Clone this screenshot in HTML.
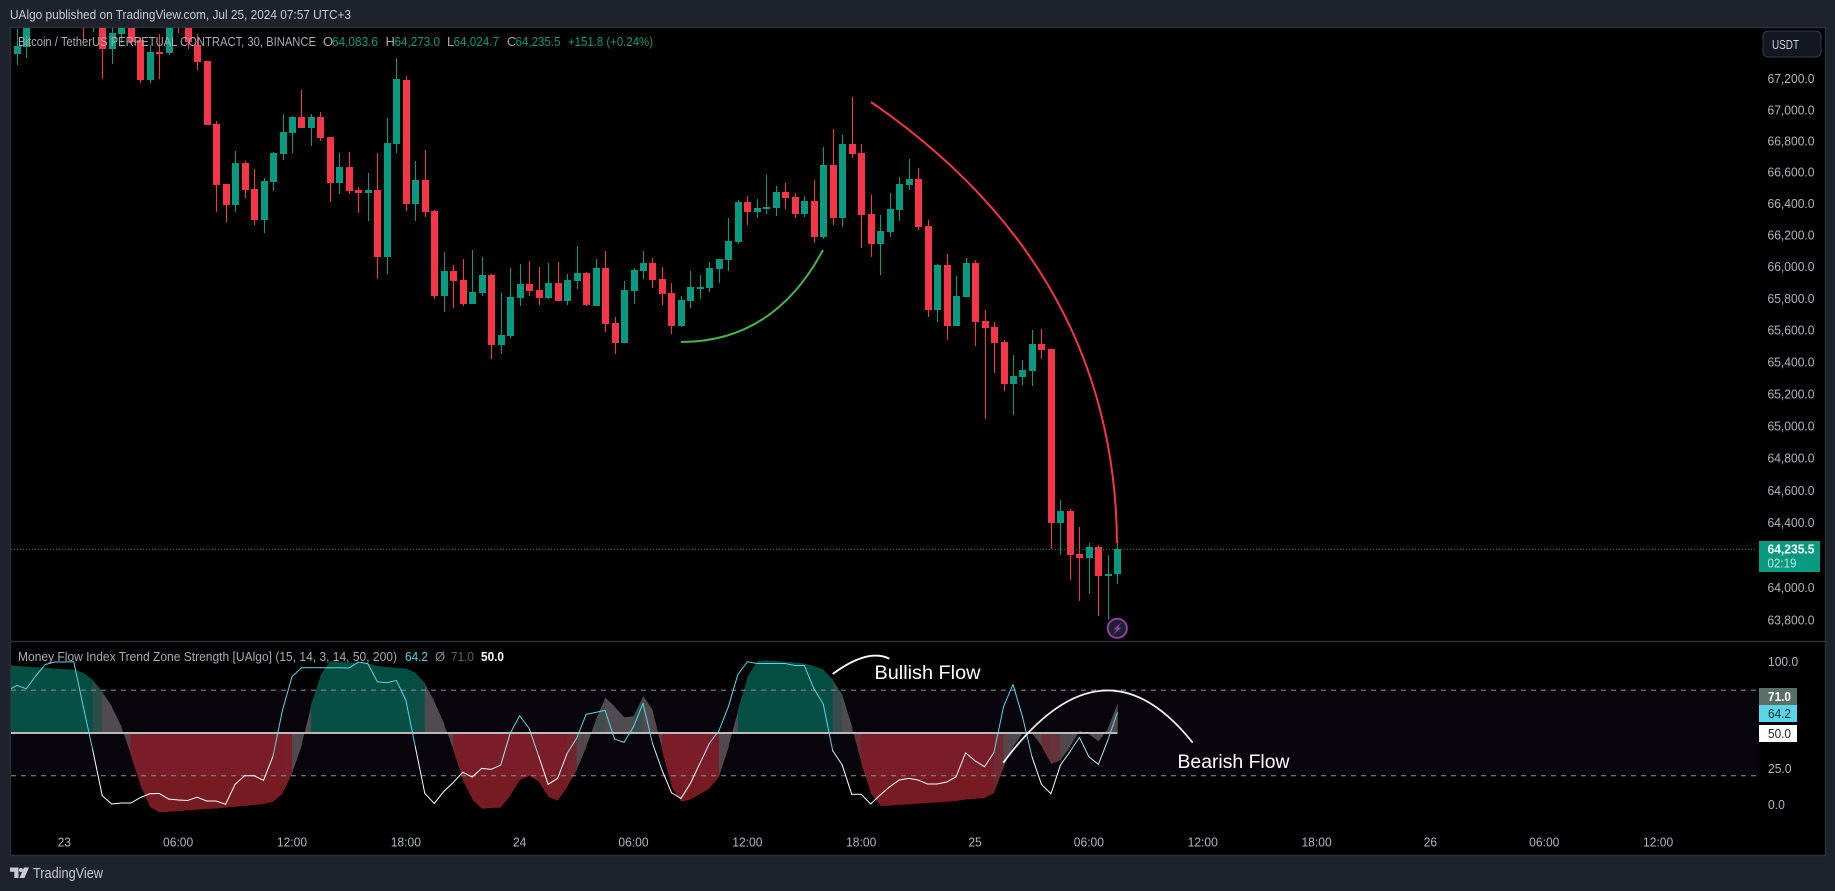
<!DOCTYPE html>
<html lang="en">
<head>
<meta charset="utf-8">
<title>BTC/USDT chart with Money Flow Index</title>
<style>
html,body{margin:0;padding:0;background:#1e222d;width:1835px;height:891px;overflow:hidden}
svg{display:block;font-family:"Liberation Sans",Arial,sans-serif}
</style>
</head>
<body>
<svg id="chart" xmlns="http://www.w3.org/2000/svg" width="1835" height="891" viewBox="0 0 1835 891">
  <defs>
    <clipPath id="priceClip"><rect x="11" y="28" width="1814" height="613"/></clipPath>
    <clipPath id="paneClip"><rect x="11" y="642" width="1748" height="213"/></clipPath>
  </defs>
  <rect x="0" y="0" width="1835" height="891" fill="#1e222d"/>
  <text x="10" y="19" font-size="13" fill="#c8cbd3" textLength="341" lengthAdjust="spacingAndGlyphs">UAlgo published on TradingView.com, Jul 25, 2024 07:57 UTC+3</text>
  <rect x="10.5" y="27.5" width="1815" height="828" fill="#000" stroke="#2a2e39" stroke-width="1.5"/>

  <g id="priceLayer" clip-path="url(#priceClip)"></g>
  <line id="lastPriceLine" x1="11" x2="1757" stroke="#089981" stroke-width="1" stroke-dasharray="1 2"/>

  <path d="M871 102 Q1115 270 1117 543" fill="none" stroke="#f23645" stroke-width="2"/>
  <path d="M681 342 Q774 342 823 250" fill="none" stroke="#4caf50" stroke-width="2"/>

  <g>
    <circle cx="1117.3" cy="628.3" r="9.6" fill="#1e222d" stroke="#9c3fb0" stroke-width="1.8"/>
    <polygon points="1121.5,622 1113.5,629.5 1117,629.5 1113,635 1121.5,627.6 1118,627.6" fill="#9c3fb0"/>
  </g>

  <line x1="10" x2="1825" y1="641.5" y2="641.5" stroke="#2a2e39" stroke-width="1.5"/>

  <g id="paneLayer" clip-path="url(#paneClip)"></g>

  <path d="M832.7 674 Q868 648 889.3 658.7" fill="none" stroke="#fff" stroke-width="1.8"/>
  <path d="M1003.3 762.7 Q1102 629 1192.7 742.7" fill="none" stroke="#fff" stroke-opacity=".92" stroke-width="1.8"/>
  <text x="874.5" y="679" font-size="19.5" fill="#fff" textLength="106" lengthAdjust="spacingAndGlyphs">Bullish Flow</text>
  <text x="1177.5" y="768" font-size="19.5" fill="#fff" textLength="112" lengthAdjust="spacingAndGlyphs">Bearish Flow</text>

  <g font-size="13">
    <text x="18" y="46" fill="#a9acb5" textLength="298" lengthAdjust="spacingAndGlyphs">Bitcoin / TetherUS PERPETUAL CONTRACT, 30, BINANCE</text>
    <text x="323" y="46" fill="#a9acb5">O</text>
    <text x="332" y="46" fill="#089981" textLength="46" lengthAdjust="spacingAndGlyphs">64,083.6</text>
    <text x="385.5" y="46" fill="#a9acb5">H</text>
    <text x="394.5" y="46" fill="#089981" textLength="45.5" lengthAdjust="spacingAndGlyphs">64,273.0</text>
    <text x="447" y="46" fill="#a9acb5">L</text>
    <text x="453.5" y="46" fill="#089981" textLength="45.5" lengthAdjust="spacingAndGlyphs">64,024.7</text>
    <text x="507" y="46" fill="#a9acb5">C</text>
    <text x="515.5" y="46" fill="#089981" textLength="45" lengthAdjust="spacingAndGlyphs">64,235.5</text>
    <text x="568" y="46" fill="#089981" textLength="85" lengthAdjust="spacingAndGlyphs">+151.8 (+0.24%)</text>
  </g>

  <g font-size="13">
    <text x="18" y="661" fill="#a9acb5" textLength="379" lengthAdjust="spacingAndGlyphs">Money Flow Index Trend Zone Strength [UAlgo] (15, 14, 3, 14, 50, 200)</text>
    <text x="405" y="661" fill="#5ad4e6" textLength="23" lengthAdjust="spacingAndGlyphs">64.2</text>
    <text x="435" y="661" fill="#8a8d96">Ø</text>
    <text x="451" y="661" fill="#4f6b62" textLength="23" lengthAdjust="spacingAndGlyphs">71.0</text>
    <text x="481" y="661" fill="#fff" font-weight="bold" textLength="23" lengthAdjust="spacingAndGlyphs">50.0</text>
  </g>

  <g id="priceAxis" font-size="13" fill="#b2b5be"></g>
  <g id="mfiAxis" font-size="13" fill="#b2b5be"></g>
  <g id="timeAxis" font-size="13" fill="#b2b5be" text-anchor="middle"></g>

  <g>
    <rect x="1763" y="31" width="58" height="26" rx="5" fill="#131722" stroke="#363a45"/>
    <text x="1772" y="49" font-size="13" fill="#d1d4dc" textLength="27" lengthAdjust="spacingAndGlyphs">USDT</text>
  </g>

  <g>
    <rect x="1759" y="541" width="61" height="31" fill="#089981"/>
    <text x="1767.5" y="553.5" font-size="13" font-weight="bold" fill="#fff" textLength="47" lengthAdjust="spacingAndGlyphs">64,235.5</text>
    <text x="1767.5" y="567.5" font-size="13" fill="#bfe9df" textLength="29" lengthAdjust="spacingAndGlyphs">02:19</text>
  </g>

  <g font-size="13">
    <rect x="1759" y="688" width="38" height="17" fill="#5a7067"/>
    <text x="1768" y="701" fill="#fff" font-weight="bold" textLength="23" lengthAdjust="spacingAndGlyphs">71.0</text>
    <rect x="1759" y="705" width="38" height="17" fill="#5ad4e6"/>
    <text x="1768" y="718" fill="#10303a" textLength="23" lengthAdjust="spacingAndGlyphs">64.2</text>
    <rect x="1759" y="725" width="38" height="17" fill="#fff"/>
    <text x="1768" y="738" fill="#222" textLength="23" lengthAdjust="spacingAndGlyphs">50.0</text>
  </g>

  <g>
    <path d="M10 867.5h8.5v10.5h-4.2v-6.3H10z M24 867.5h5l-4.6 10.5h-5z" fill="#c8cbd3"/>
    <circle cx="21" cy="870" r="2" fill="#c8cbd3"/>
    <text x="33" y="878" font-size="15" fill="#c8cbd3" textLength="70" lengthAdjust="spacingAndGlyphs">TradingView</text>
  </g>
</svg>

<script>
// Bars are 30-minute candles; the first entry sits 6 bars before the "23" day tick.
const firstBarOffset = -6;
const opens = [
67430,67359,67406,67590,67650,67680,67650,67640,67700,67560,
67680,67391,67487,67560,67449,67192,67372,67365,67700,67580,
67417,67314,66909,66525,66391,66659,66493,66296,66537,66717,
66851,66953,66883,66953,66826,66531,66633,66487,66468,66487,
66061,66781,67192,66397,66550,66353,65815,65972,65915,65764,
65833,65947,65506,65562,65802,65890,65852,65802,65896,65783,
65909,65960,65751,65991,65644,65518,65846,65972,66023,65922,
65833,65625,65783,65865,65865,65985,66042,66156,66410,66347,
66372,66372,66474,66442,66334,66417,66188,66646,66309,66781,
66723,66334,66143,66219,66359,66518,66557,66258,65726,66010,
65625,65808,66023,65657,65619,65525,65262,65306,65343,65512,
65481,64397,64473,64207,64182,64250,64071,64083.6];
const highs = [
67460,67520,67620,67700,67720,67740,67700,67720,67760,67720,
67700,67560,67620,67600,67470,67417,67487,67620,67720,67600,
67487,67314,66928,66525,66736,66672,66621,66563,66730,66973,
66960,67127,66973,66986,66826,66723,66730,66506,66595,66723,
66947,67333,67217,66672,66742,66359,66092,66010,66048,66105,
66061,65953,65833,65991,66016,66035,65997,66023,66029,65953,
66131,65966,66048,66099,65682,65909,65991,66099,66054,65997,
65896,65815,65972,65947,66029,66048,66309,66423,66448,66429,
66582,66512,66531,66468,66448,66550,66762,66877,66838,67082,
66781,66455,66328,66468,66569,66685,66627,66296,66016,66080,
65941,66054,66042,65726,65651,65537,65443,65412,65600,65606,
65481,64541,64485,64373,64275,64262,64200,64273];
const lows = [
67350,67288,67333,67560,67600,67620,67600,67590,67449,67500,
67198,67295,67430,67420,67172,67172,67198,67352,67494,67391,
67255,66903,66347,66283,66347,66436,66264,66213,66480,66678,
66723,66883,66768,66800,66410,66461,66461,66340,66290,65922,
65953,66723,66353,66290,66315,65796,65714,65739,65751,65764,
65815,65418,65450,65550,65751,65815,65758,65796,65783,65758,
65858,65751,65751,65587,65450,65518,65764,65922,65865,65758,
65575,65619,65739,65796,65840,65896,65972,66143,66264,66309,
66334,66321,66366,66309,66315,66150,66175,66264,66251,66691,
66118,66061,65947,66188,66290,66487,66232,65682,65651,65537,
65625,65808,65500,65043,65331,65219,65068,65256,65250,65418,
64237,64200,64046,63918,63961,63826,63801,64024.7];
const closes = [
67359,67410,67590,67650,67680,67650,67640,67690,67560,67680,
67391,67494,67560,67436,67192,67372,67365,67580,67580,67436,
67307,66903,66518,66391,66659,66487,66296,66544,66723,66857,
66953,66883,66953,66819,66531,66633,66480,66468,66487,66061,
66787,67198,66397,66550,66347,65815,65972,65909,65764,65840,
65947,65506,65569,65808,65890,65846,65802,65896,65783,65915,
65960,65758,65991,65638,65518,65852,65979,66023,65915,65827,
65625,65789,65871,65871,65991,66048,66162,66410,66347,66372,
66378,66474,66436,66334,66417,66188,66646,66309,66781,66717,
66328,66143,66226,66366,66525,66557,66251,65726,66010,65625,
65815,66023,65651,65613,65518,65262,65312,65349,65512,65475,
64397,64473,64200,64182,64250,64071,64083,64235.5];
const mfiValues = [
79.6,83.3,81,90,98,99.7,99.7,99.9,68.4,38,
6,.2,.9,.9,4.6,7.4,7.6,3.7,3,2.7,
5,2.3,2.3,0,14,20,20,16.8,33.8,66,
89.4,95.7,95.7,95.7,95.7,95.7,95.5,99.7,98.5,85.9,
85.2,86.8,73,40.3,7.6,.6,9,15.3,22.4,19.1,
25.2,24.5,27.5,49.7,62.1,53.2,33.8,14,18.2,35.7,
46.2,63,64.4,65.8,45.7,43.4,54.4,70.7,42.7,24,
8.1,4.1,14.7,28.7,42.7,51.6,68.4,91,99.9,98.7,
98.7,98.7,98.7,97.3,97.3,81.2,70.2,37.5,27.5,7,
7,.2,6.5,12.3,17,18.2,17,14.2,14.2,15.6,
19.3,36.1,30.5,26.3,36.4,68.4,84,61.4,33.3,14,
7.4,27.5,36.8,46.9,33.3,28,45,64.2];
const zoneValues = [
97.2,97,96.4,96,95.7,95.2,94.8,94.3,92.2,87,
78.9,68.4,54.4,34.5,13.5,-1.7,-5.7,-5.2,-4.8,-4.3,
-3.8,-3.3,-2.9,-2.2,-1.7,-1.2,-.5,.2,1.8,7.6,
21.7,41.5,69.5,90.6,100.4,99.9,99.4,99.2,98.7,96.9,
96.2,95.7,95.2,92.2,84.7,71.9,56.7,38,17,3.4,
-3.1,-2.6,-2.2,6.2,17,20,15.8,5.3,2.5,12.3,
24,40.3,59,74.9,68.4,60.9,61.8,75.9,66,38,
12.3,1.8,3.4,7.2,11.1,19.3,40.3,66,89.4,100.2,
100.9,100.4,99.9,99.4,98.7,96.9,94.5,87.1,76.6,54.4,
28.7,7.6,-1.2,-.8,-.5,0,.4,.9,1.3,1.8,
2.3,3.4,3.9,4.4,8.1,26.3,40.3,49.7,49.7,40.8,
28.2,31,40.3,51.6,49.2,43.9,53.2,70.7];
const priceTicks = [67200,67000,66800,66600,66400,66200,66000,65800,65600,65400,65200,65000,64800,64600,64400,64200,64000,63800];
const mfiTicks = [100,25,0];
const timeTicks = ['23','06:00','12:00','18:00','24','06:00','12:00','18:00','25','06:00','12:00','18:00','26','06:00','12:00'];
const barsPerTimeTick = [12];
const lastPrice = [64235.5];
const zoneLevels = [80,50,20];

const NS = 'http://www.w3.org/2000/svg';
const xOf = i => 64.3 + 9.487 * i;
const yPrice = p => 78.7 + 10430 * Math.log(67200 / p);
const yMfi = v => 804.3 - 1.427 * v;

function make(tag, attrs, parent) {
  const n = document.createElementNS(NS, tag);
  for (const k in attrs) n.setAttribute(k, attrs[k]);
  parent.appendChild(n);
  return n;
}
const mix = (a, b, t) => a.map((c, i) => Math.round(c + (b[i] - c) * t));
const clamp = (t) => Math.max(0, Math.min(1, t));
// Glyph widths that reproduce the reference's axis label extents.
const labelWidth = s => [...s].reduce((w, ch) => w + (/[0-9]/.test(ch) ? 6.7 : 3.4), 0);

// candles
const priceLayer = document.getElementById('priceLayer');
opens.forEach((open, k) => {
  const i = k + firstBarOffset;
  const close = closes[k];
  const color = close >= open ? '#089981' : '#f53649';
  const cx = Math.round(xOf(i));
  const top = Math.round(yPrice(Math.max(open, close)));
  const bottom = Math.round(yPrice(Math.min(open, close)));
  const candle = make('g', {'shape-rendering': 'crispEdges', fill: color}, priceLayer);
  
  
  const hi = Math.round(yPrice(highs[k]));
  const lo = Math.round(yPrice(lows[k]));
  const wick = make('rect', {x: cx, y: hi, width: 1, height: Math.max(1, lo - hi)}, candle);
  
  
  const body = make('rect', {x: cx - 3, y: top, width: 7, height: Math.max(2, bottom - top)}, candle);
  
  
});

const lastLine = document.getElementById('lastPriceLine');
lastLine.setAttribute('y1', yPrice(lastPrice[0]));
lastLine.setAttribute('y2', yPrice(lastPrice[0]));

// MFI pane
const pane = document.getElementById('paneLayer');
const band = make('rect', {x: 11, y: yMfi(zoneLevels[0]), width: 1748, height: yMfi(zoneLevels[2]) - yMfi(zoneLevels[0]), fill: '#08040c'}, pane);



const fillGroup = make('g', {opacity: .5}, pane);


const midY = yMfi(zoneLevels[1]);
for (let k = 1; k < zoneValues.length; k++) {
  const v = zoneValues[k];
  const i = k + firstBarOffset;
  const grey = [150, 145, 145];
  const rgb = v >= zoneLevels[1]
    ? mix(grey, [8, 153, 129], clamp((v - 72) / 14))
    : mix(grey, [236, 54, 69], clamp((50 - v - 8) / 22));
  const x0 = xOf(i - 1), x1 = xOf(i) + 0.4;
  const y0 = yMfi(zoneValues[k - 1]), y1 = yMfi(v);
  const pts = x0 + ',' + midY + ' ' + x0 + ',' + y0 + ' ' + x1 + ',' + y1 + ' ' + x1 + ',' + midY;
  const slice = make('polygon', {points: pts, fill: 'rgb(' + rgb.join(',') + ')'}, fillGroup);
  
  
}

[zoneLevels[0], zoneLevels[2]].forEach(level => {
  const dash = make('line', {x1: 11, x2: 1759, y1: yMfi(level), y2: yMfi(level), stroke: '#8d8f98', 'stroke-width': 1, 'stroke-dasharray': '5 5'}, pane);
  
  
});

const mid = make('line', {x1: 11, x2: xOf(opens.length - 1 + firstBarOffset), y1: midY, y2: midY, stroke: '#bababa', 'stroke-width': 2}, pane);



const mfiGroup = make('g', {fill: 'none', 'stroke-width': 1, 'stroke-linecap': 'round'}, pane);


for (let k = 1; k < mfiValues.length; k++) {
  const avg = (mfiValues[k] + mfiValues[k - 1]) / 2;
  const rgb = mix([255, 255, 255], [90, 212, 230], clamp((avg - 22) / 28));
  const seg = make('line', {
    x1: xOf(k - 1 + firstBarOffset), y1: yMfi(mfiValues[k - 1]),
    x2: xOf(k + firstBarOffset), y2: yMfi(mfiValues[k]),
    stroke: 'rgb(' + rgb.join(',') + ')'
  }, mfiGroup);
  
  
}

// axes
const priceAxis = document.getElementById('priceAxis');
priceTicks.forEach(p => {
  const label = p.toLocaleString('en-US', {minimumFractionDigits: 1});
  const t = make('text', {x: 1767.5, y: yPrice(p) + 4.5, textLength: labelWidth(label), lengthAdjust: 'spacingAndGlyphs'}, priceAxis);
  
  
  t.textContent = label;
});
const mfiAxis = document.getElementById('mfiAxis');
mfiTicks.forEach(v => {
  const label = v.toFixed(1);
  const t = make('text', {x: 1768, y: yMfi(v) + 4.5, textLength: labelWidth(label), lengthAdjust: 'spacingAndGlyphs'}, mfiAxis);
  
  
  t.textContent = label;
});
const timeAxis = document.getElementById('timeAxis');
timeTicks.forEach((label, k) => {
  const t = make('text', {x: xOf(k * barsPerTimeTick[0]), y: 846.5, textLength: labelWidth(label), lengthAdjust: 'spacingAndGlyphs'}, timeAxis);
  
  
  t.textContent = label;
});
</script>
</body>
</html>
